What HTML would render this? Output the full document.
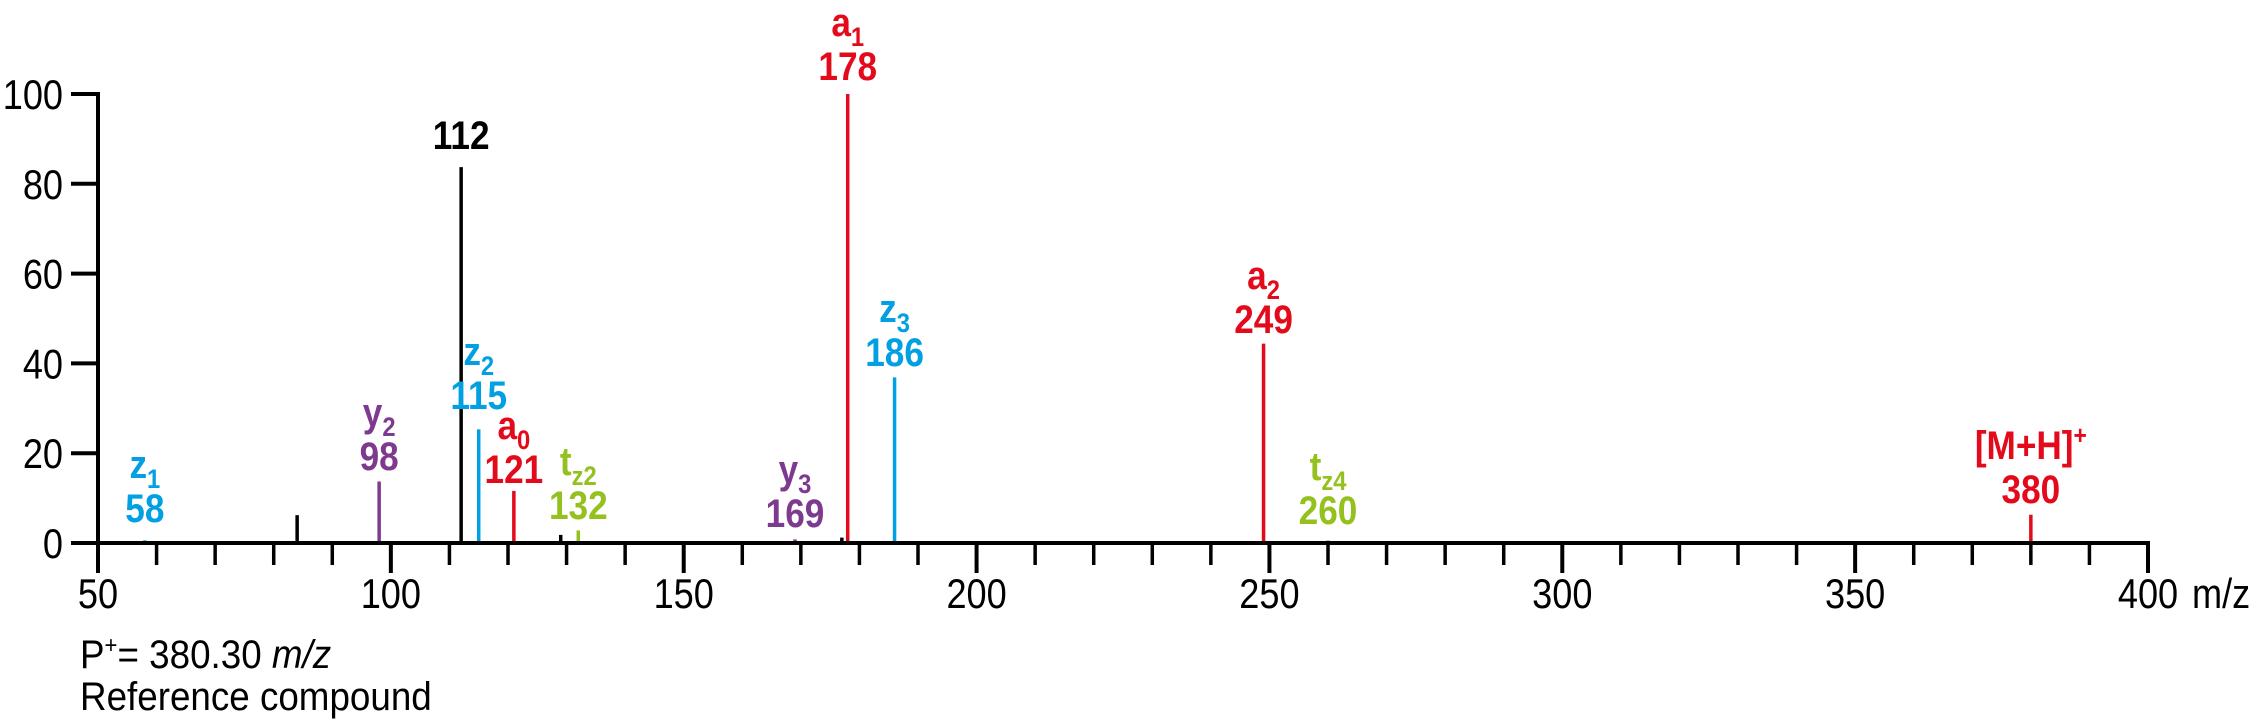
<!DOCTYPE html>
<html><head><meta charset="utf-8"><style>
html,body{margin:0;padding:0;background:#fff;}
svg{display:block;}
text{font-family:"Liberation Sans",Arial,sans-serif;}
</style></head><body>
<svg id="chart" width="2255" height="723" viewBox="0 0 2255 723" xmlns="http://www.w3.org/2000/svg">
<g id="peaks"></g>
<g id="axes"></g>
<g id="labels"></g>
<text transform="translate(80,668) scale(0.92,1)" font-size="40" fill="#000">P<tspan font-size="24" dy="-15">+</tspan><tspan dy="15">= 380.30 </tspan><tspan font-style="italic">m/z</tspan></text>
<text transform="translate(80,710) scale(0.92,1)" font-size="40" fill="#000">Reference compound</text>
</svg>
<script>
const peakMz = [58, 84, 98, 112, 115, 121, 129, 132, 169, 177, 178, 186, 249, 260, 380];
const peakInt = [0.6, 6.2, 13.7, 83.7, 25.3, 11.6, 1.8, 2.8, 0.8, 1.2, 100, 36.9, 44.4, 0.6, 6.3];
const peakColor = ['#00a0e3','#000','#7d3a8e','#000','#00a0e3','#e30b1b','#000','#95c11f','#7d3a8e','#000','#e30b1b','#00a0e3','#e30b1b','#95c11f','#e30b1b'];
const labelMz = [58, 98, 112, 115, 121, 132, 169, 178, 186, 249, 260, 380];
const labelNum = ['58','98','112','115','121','132','169','178','186','249','260','380'];
const labelName = ['z','y','','z','a','t','y','a','z','a','t','[M+H]'];
const labelSub = ['1','2','','2','0','z2','3','1','3','2','z4',''];
const labelSup = ['','','','','','','','','','','','+'];
const labelColor = ['#00a0e3','#7d3a8e','#000','#00a0e3','#e30b1b','#95c11f','#7d3a8e','#e30b1b','#00a0e3','#e30b1b','#95c11f','#e30b1b'];
const labelBase = [522, 470, 149, 409, 483, 519, 527, 80, 366, 333, 524, 503];
const xTicks = [50, 100, 150, 200, 250, 300, 350, 400];
const yTicks = [0, 20, 40, 60, 80, 100];

const NS = 'http://www.w3.org/2000/svg';
const X0 = 98, X1 = 2148, Y0 = 543, Y1 = 94;
function xs(v){ return X0 + (v - 50) / 350 * (X1 - X0); }
function ys(v){ return Y0 - v / 100 * (Y0 - Y1); }
function mk(tag, attrs, parent){
  const e = document.createElementNS(NS, tag);
  for (const k in attrs) e.setAttribute(k, attrs[k]);
  parent.appendChild(e); return e;
}
function txt(x, y, sx, attrs, parent){
  attrs.transform = 'translate(' + x + ',' + y + ') scale(' + sx + ',1)';
  return mk('text', attrs, parent);
}
const gP = document.getElementById('peaks'), gA = document.getElementById('axes'), gL = document.getElementById('labels');

peakMz.forEach((m, i) => {
  const l = mk('line', {x1: xs(m), x2: xs(m), y1: Y0, y2: ys(peakInt[i]), stroke: peakColor[i], 'stroke-width': 3.5}, gP);
  
  
});

let a = mk('line', {x1: X0, x2: X0, y1: Y1 - 2, y2: 572, stroke: '#000', 'stroke-width': 4}, gA);


a = mk('line', {x1: 71, x2: X1 + 2, y1: Y0, y2: Y0, stroke: '#000', 'stroke-width': 4}, gA);


for (let v = 60; v < 400; v += 10) {
  if (v % 50 === 0) continue;
  const t = mk('line', {x1: xs(v), x2: xs(v), y1: Y0, y2: 565, stroke: '#000', 'stroke-width': 3.5}, gA);
  
  
}
xTicks.forEach(v => {
  const t = mk('line', {x1: xs(v), x2: xs(v), y1: Y0, y2: 573, stroke: '#000', 'stroke-width': 4}, gA);
  
  
  const tx = txt(xs(v), 608, 0.86, {'font-size': 42, 'text-anchor': 'middle', fill: '#000'}, gA);
  tx.textContent = String(v);
  
  
});
const unit = txt(xs(400) + 44, 608, 0.86, {'font-size': 42, fill: '#000'}, gA);
unit.textContent = 'm/z';


yTicks.forEach(v => {
  const t = mk('line', {x1: 71, x2: X0, y1: ys(v), y2: ys(v), stroke: '#000', 'stroke-width': 4}, gA);
  
  
  const tx = txt(63, ys(v) + 15, 0.86, {'font-size': 42, 'text-anchor': 'end', fill: '#000'}, gA);
  tx.textContent = String(v);
  
  
});

labelMz.forEach((m, i) => {
  const cx = xs(m), c = labelColor[i], b = labelBase[i];
  const num = txt(cx, b, 0.88, {'font-size': 40, 'font-weight': 'bold', 'text-anchor': 'middle', fill: c}, gL);
  num.textContent = labelNum[i];
  
  
  if (labelName[i]) {
    const nm = txt(cx, b - 44, 0.88, {'font-size': 40, 'font-weight': 'bold', 'text-anchor': 'middle', fill: c}, gL);
    
    
    const t1 = mk('tspan', {}, nm); t1.textContent = labelName[i];
    if (labelSub[i]) { const t2 = mk('tspan', {'font-size': 27, dy: 10}, nm); t2.textContent = labelSub[i]; }
    if (labelSup[i]) { const t3 = mk('tspan', {'font-size': 26, dy: -15}, nm); t3.textContent = labelSup[i]; }
  }
});
</script>
</body></html>
